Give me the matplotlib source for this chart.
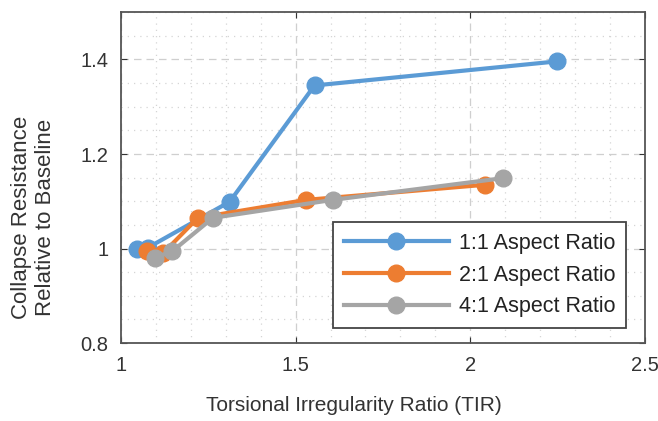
import matplotlib.pyplot as plt
from matplotlib.ticker import MultipleLocator, FormatStrFormatter

plt.rcParams['font.family'] = ['Liberation Sans', 'DejaVu Sans']

# DATA
tir_11 = [1.046, 1.077, 1.311, 1.554, 2.249]
cr_11 = [1.000, 1.002, 1.099, 1.345, 1.396]

tir_21 = [1.074, 1.120, 1.220, 1.530, 2.043]
cr_21 = [0.994, 0.990, 1.065, 1.103, 1.135]

tir_41 = [1.097, 1.146, 1.263, 1.606, 2.094]
cr_41 = [0.981, 0.994, 1.065, 1.103, 1.149]

labels = ["1:1 Aspect Ratio", "2:1 Aspect Ratio", "4:1 Aspect Ratio"]
colors = ["#5B9BD5", "#ED7D31", "#A5A5A5"]

fig = plt.figure(figsize=(6.58, 4.21), dpi=100)
ax = fig.add_axes([0.184, 0.185, 0.796, 0.786])

for x, y, lab, c in zip([tir_11, tir_21, tir_41], [cr_11, cr_21, cr_41], labels, colors):
    ax.plot(x, y, "-o", color=c, lw=3, ms=12, label=lab)

ax.set_xlim(1, 2.5)
ax.set_ylim(0.8, 1.5)
ax.xaxis.set_major_locator(MultipleLocator(0.5))
ax.xaxis.set_minor_locator(MultipleLocator(0.1))
ax.yaxis.set_major_locator(MultipleLocator(0.2))
ax.yaxis.set_minor_locator(MultipleLocator(0.05))
ax.xaxis.set_major_formatter(FormatStrFormatter("%g"))
ax.yaxis.set_major_formatter(FormatStrFormatter("%g"))

ax.grid(which="major", color="#cfcfcf", linestyle=(0, (6, 4)), lw=0.9)
ax.grid(which="minor", color="#d5d5d5", linestyle=(0, (1, 4)), lw=0.9)
ax.set_axisbelow(True)
ax.tick_params(which="both", direction="in", top=True, right=True,
               labelsize=14.5, colors="#333333", length=4, pad=9)
ax.tick_params(which="minor", length=0)
for s in ax.spines.values():
    s.set_color("#555555")
    s.set_linewidth(1.3)

ax.set_xlabel("Torsional Irregularity Ratio (TIR)", fontsize=15, color="#333333")
ax.set_ylabel("Collapse Resistance\nRelative to Baseline", fontsize=16, color="#333333",
              linespacing=1.15)
# label centres sit a bit off the axes centre in the original
ax.xaxis.set_label_coords(0.445, -0.16)
ax.yaxis.set_label_coords(-0.125, 0.38)

leg = ax.legend(loc="lower right", bbox_to_anchor=(0.964, 0.045), borderaxespad=0,
                fontsize=15.5, fancybox=False, framealpha=1, edgecolor="#444444",
                handlelength=4.9, handletextpad=0.45, labelspacing=0.5, borderpad=0.5)
leg.get_frame().set_linewidth(1.3)
for t in leg.get_texts():
    t.set_color("#222222")

fig.savefig("out.png", dpi=100)
